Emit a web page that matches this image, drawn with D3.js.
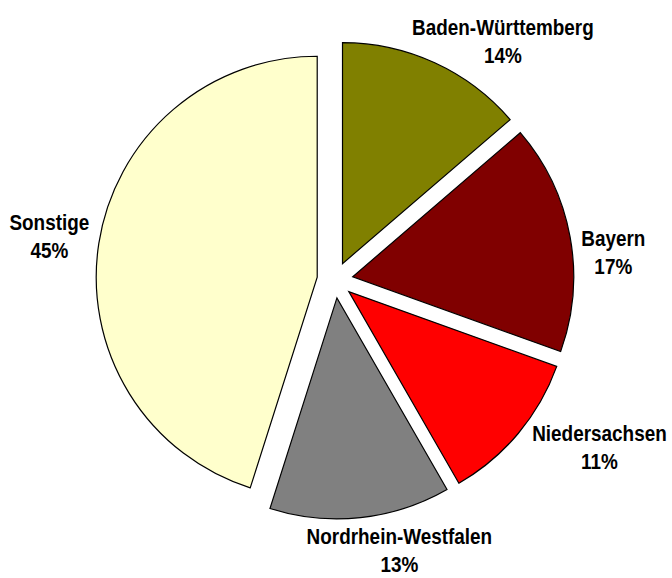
<!DOCTYPE html>
<html>
<head>
<meta charset="utf-8">
<script src="https://cdn.jsdelivr.net/npm/d3@7"></script>
<style>
  body { margin: 0; background: #fff; }
</style>
</head>
<body>
<svg id="svg"></svg>
<script>
// shares per Bundesland, clockwise from 12 o'clock
const states = ["Baden-Württemberg", "Bayern", "Niedersachsen", "Nordrhein-Westfalen", "Sonstige"];
const shares = [13.7, 16.8, 11.2, 13.2, 45.1];
const shareLabels = ["14%", "17%", "11%", "13%", "45%"];
const sliceColors = ["#808000", "#800000", "#ff0000", "#808080", "#ffffcc"];

let layout = {"width": 672, "height": 578,
              "cx": 335, "cy": 280,
              "radius": 221, "explode": 18,
              "labelRadius": 285, "lineGap": 28};

// small hand nudges so labels sit where the original put them
const labelNudge = {
  "Baden-Württemberg": [49, 20],
  "Bayern": [-2, 24],
  "Niedersachsen": [46, -16],
  "Nordrhein-Westfalen": [34, -13],
  "Sonstige": [-4, 0]
};

const data = states.map((s, i) => ({name: s, value: shares[i], label: shareLabels[i], color: sliceColors[i]}));

let svg = d3.select("#svg")
  .attr("width", layout.width)
  .attr("height", layout.height);

let pie = d3.pie().sort(null).value(d => d.value);
let arcs = pie(data);

let arc = d3.arc().innerRadius(0).outerRadius(layout.radius);
let labelArc = d3.arc().innerRadius(layout.labelRadius).outerRadius(layout.labelRadius);

let g = svg.append("g")
  .attr("transform", `translate(${layout.cx}, ${layout.cy})`);

g.selectAll(".slice")
  .data(arcs)
  .join("path")
  .attr("class", "slice")
  .attr("transform", d => {
    let mid = (d.startAngle + d.endAngle) / 2;
    return `translate(${Math.sin(mid) * layout.explode}, ${-Math.cos(mid) * layout.explode})`;
  })
  .attr("d", arc)
  .attr("fill", d => d.data.color)
  .attr("stroke", "#000")
  .attr("stroke-width", 1.2)
  .attr("stroke-linejoin", "miter");

let labels = g.selectAll(".label")
  .data(arcs)
  .join("g")
  .attr("class", "label")
  .attr("transform", d => {
    let [x, y] = labelArc.centroid(d);
    let n = labelNudge[d.data.name];
    let baseline = y + n[1] - 5.9;
    return `translate(${x + n[0]}, ${baseline}) scale(0.86, 1)`;
  });

labels.append("text")
  .attr("text-anchor", "middle")
  .attr("font-family", "'Liberation Sans', Arial, sans-serif")
  .attr("font-weight", "bold")
  .attr("font-size", 22)
  .attr("fill", "#000")
  .text(d => d.data.name);

labels.append("text")
  .attr("text-anchor", "middle")
  .attr("y", layout.lineGap)
  .attr("font-family", "'Liberation Sans', Arial, sans-serif")
  .attr("font-weight", "bold")
  .attr("font-size", 22)
  .attr("fill", "#000")
  .text(d => d.data.label);
</script>
</body>
</html>
